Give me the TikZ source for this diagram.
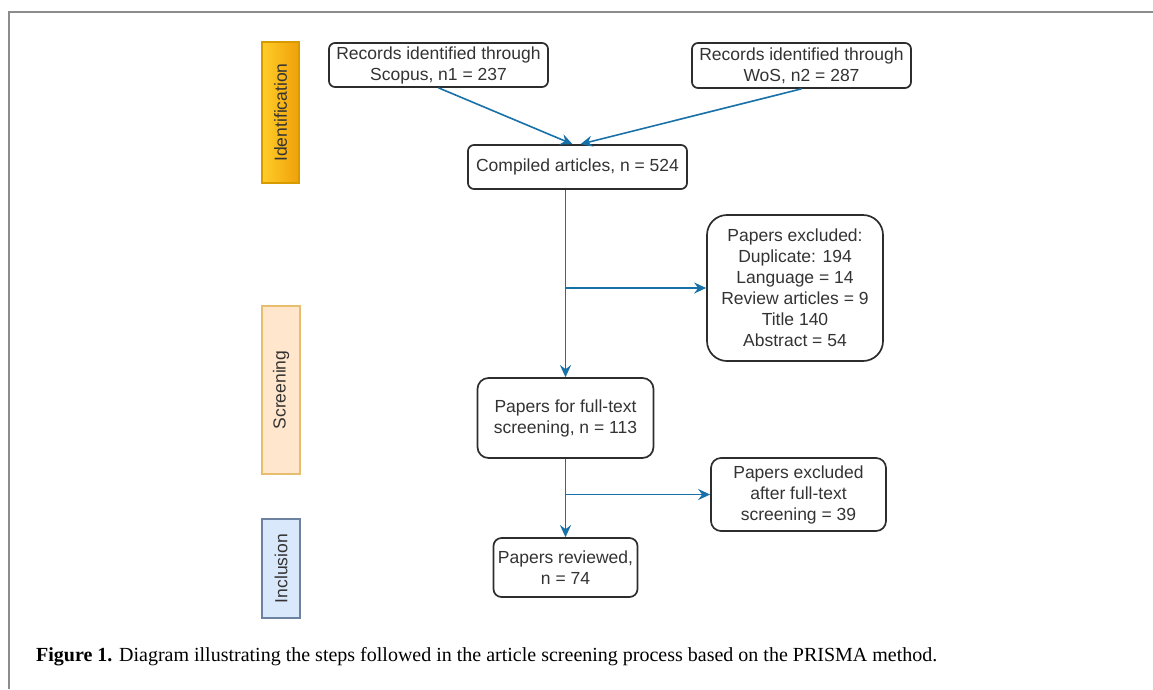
\documentclass[tikz,border=0pt]{standalone}
\usepackage{fontspec}
\setmainfont{Liberation Serif}
\newfontfamily\diagfont{Liberation Sans}
\usetikzlibrary{arrows.meta,positioning,calc}
\definecolor{flowblue}{RGB}{24,112,168}
\definecolor{boxline}{RGB}{45,45,45}
\definecolor{framegray}{RGB}{140,140,140}
\definecolor{identtop}{RGB}{255,205,40}
\definecolor{identbot}{RGB}{240,160,10}
\definecolor{identline}{RGB}{215,155,0}
\definecolor{screenfill}{RGB}{255,230,204}
\definecolor{screenline}{RGB}{230,190,110}
\definecolor{inclfill}{RGB}{218,232,252}
\definecolor{inclline}{RGB}{108,130,160}

\begin{document}
\begin{tikzpicture}[x=1pt, y=-1pt,
  >={Stealth[length=12pt, width=11pt, inset=4pt]},
  box/.style={draw=boxline, line width=1.7pt, rounded corners=6pt, align=center,
    inner sep=0pt, font=\diagfont\fontsize{17.5}{21}\selectfont, text=black!80},
  flow/.style={draw=flowblue, line width=1.6pt},
  phase/.style={line width=1.5pt, inner sep=0pt, rotate=90,
    font=\diagfont\fontsize{17.5}{21}\selectfont, text=black!80}]
\useasboundingbox (0,0) rectangle (1153,689);
\draw[framegray, line width=2pt] (8.5,689) -- (8.5,12) -- (1153,12);

% phases
\node (ident) [phase, draw=identline, left color=identtop, right color=identbot,
  minimum width=141pt, minimum height=37pt] at (280.5,112.5) {Identification};
\node (screen) [phase, draw=screenline, fill=screenfill,
  minimum width=168pt, minimum height=38pt] at (281,390) {Screening};
\node (incl) [phase, draw=inclline, fill=inclfill,
  minimum width=99pt, minimum height=38pt] at (281,568.5) {Inclusion};

% boxes
\node (scopus) [box, minimum width=219pt, minimum height=44pt] at (438.5,65)
  {Records identified through\\Scopus, n1 = 237};
\node (wos) [box, minimum width=219pt, minimum height=45pt] at (801.5,65.5)
  {Records identified through\\WoS, n2 = 287};
\node (compiled) [box, minimum width=219pt, minimum height=44pt] at (577.5,167)
  {Compiled articles, n = 524};
\node (excl) [box, rounded corners=20pt, minimum width=176pt, minimum height=146pt] at (795,288)
  {Papers excluded:\\Duplicate: 194\\Language = 14\\Review articles = 9\\Title 140\\Abstract = 54};
\node (fulltext) [box, rounded corners=11pt, minimum width=176pt, minimum height=80pt] at (565.5,418)
  {Papers for full-text\\screening, n = 113};
\node (exclft) [box, rounded corners=10pt, minimum width=175pt, minimum height=73pt] at (798.5,494.5)
  {Papers excluded\\after full-text\\screening = 39};
\node (reviewed) [box, rounded corners=8pt, minimum width=144pt, minimum height=59pt] at (565.5,567.5)
  {Papers reviewed,\\n = 74};

\coordinate (split1) at (fulltext.north |- excl.west);
\coordinate (split2) at (fulltext.south |- exclft.west);

\draw[->, flow] (scopus.south) -- ([xshift=-5pt]compiled.north);
\draw[->, flow] (wos.south) -- ([xshift=3pt]compiled.north);
\draw[->, flow] (compiled.south -| fulltext.north) -- (fulltext.north);
\draw[->, flow] (split1) -- (excl.west);
\draw[->, flow] (fulltext.south) -- (reviewed.north);
\draw[->, flow] (split2) -- (exclft.west);

\node (caption) [anchor=west, inner sep=0pt, font=\fontsize{20}{24}\selectfont] at (36,657)
  {\textbf{Figure 1.} Diagram illustrating the steps followed in the article screening process based on the PRISMA method.};
\end{tikzpicture}
\end{document}
